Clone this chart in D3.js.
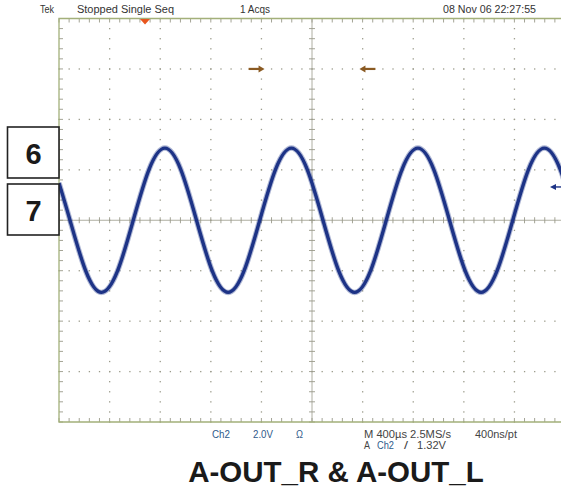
<!DOCTYPE html>
<html>
<head>
<meta charset="utf-8">
<script src="https://cdn.jsdelivr.net/npm/d3@7"></script>
<style>
  html, body { margin: 0; padding: 0; background: #fff; }
  svg { display: block; }
</style>
</head>
<body>
<svg id="scope" width="561" height="489"></svg>
<script>
// Acquisition: Ch2 at 2.0 V/div, 400 µs/div, 10 x 8 divisions
const timeDivUs = 400;
const voltDiv = 2.0;
const timeSpanUs = [0, 4000];
const voltSpan = [-8, 8];

// Ch2 trace samples (time in µs from left edge, volts)
const traceTimeUs = [0, 87, 212, 337, 462, 587, 712, 837, 962, 1087, 1212, 1337, 1462, 1587,
  1712, 1837, 1962, 2087, 2212, 2337, 2462, 2587, 2712, 2837, 2962, 3087, 3212, 3337, 3462,
  3587, 3712, 3837, 3962, 4087];
const traceVolts = [1.48, 0, -2.02, -2.86, -2.02, 0, 2.02, 2.86, 2.02, 0, -2.02, -2.86, -2.02, 0,
  2.02, 2.86, 2.02, 0, -2.02, -2.86, -2.02, 0, 2.02, 2.86, 2.02, 0, -2.02, -2.86, -2.02,
  0, 2.02, 2.86, 2.02, 0];

// Markers
const triggerLevelV = 1.32;
const triggerPosUs = 680;
const cursorTimesUs = [1625, 2375];
const cursorLevelV = 6;

// Status texts
const headerTexts = ["Tek", "Stopped  Single Seq", "1 Acqs", "08 Nov 06 22:27:55"];
const footerLine1 = ["Ch2", "2.0V", "\u03A9", "M 400\u00B5s 2.5MS/s", "400ns/pt"];
const footerLine2 = ["A", "Ch2", "/", "1.32V"];
const channelBoxes = ["6", "7"];
const title = "A-OUT_R & A-OUT_L";

const svg = d3.select("#scope");
const plotLeft = 59, plotTop = 18.5, plotBottom = 422, plotRight = 565;

const x = d3.scaleLinear().domain(timeSpanUs).range([plotLeft, plotRight]);
const y = d3.scaleLinear().domain(voltSpan).range([plotBottom, plotTop]);

const gridColor = "#9a9a8a";
const frameColor = "#a3b07a";

svg.append("defs").append("clipPath").attr("id", "plotClip")
  .append("rect").attr("x", plotLeft).attr("y", plotTop)
  .attr("width", plotRight - plotLeft).attr("height", plotBottom - plotTop);

const grid = svg.append("g");

// dotted graticule lines
const minorT = d3.range(timeSpanUs[0], timeSpanUs[1] + 1, timeDivUs / 5);
const minorV = d3.range(voltSpan[0], voltSpan[1] + 0.001, voltDiv / 5);
const majorT = d3.range(timeSpanUs[0] + timeDivUs, timeSpanUs[1], timeDivUs).filter(t => t !== 2000);
const majorV = d3.range(voltSpan[0] + voltDiv, voltSpan[1], voltDiv).filter(v => Math.abs(v) > 1e-9);

majorT.forEach(t => {
  minorV.forEach(v => {
    grid.append("rect").attr("x", x(t) - 0.6).attr("y", y(v) - 0.6)
      .attr("width", 1.3).attr("height", 1.3).attr("fill", gridColor);
  });
});
majorV.forEach(v => {
  minorT.forEach(t => {
    grid.append("rect").attr("x", x(t) - 0.6).attr("y", y(v) - 0.6)
      .attr("width", 1.3).attr("height", 1.3).attr("fill", gridColor);
  });
});

// center axes with cross ticks
grid.append("line").attr("x1", plotLeft).attr("x2", plotRight).attr("y1", y(0)).attr("y2", y(0))
  .attr("stroke", gridColor).attr("stroke-width", 0.8);
grid.append("line").attr("x1", x(2000)).attr("x2", x(2000)).attr("y1", plotTop).attr("y2", plotBottom)
  .attr("stroke", gridColor).attr("stroke-width", 0.8);
minorT.forEach(t => {
  grid.append("line").attr("x1", x(t)).attr("x2", x(t)).attr("y1", y(0) - 3).attr("y2", y(0) + 3)
    .attr("stroke", gridColor).attr("stroke-width", 0.9);
});
minorV.forEach(v => {
  grid.append("line").attr("x1", x(2000) - 3).attr("x2", x(2000) + 3).attr("y1", y(v)).attr("y2", y(v))
    .attr("stroke", gridColor).attr("stroke-width", 0.9);
});

// frame ticks
minorT.forEach(t => {
  grid.append("line").attr("x1", x(t)).attr("x2", x(t)).attr("y1", plotTop).attr("y2", plotTop + 4)
    .attr("stroke", gridColor).attr("stroke-width", 0.9);
  grid.append("line").attr("x1", x(t)).attr("x2", x(t)).attr("y1", plotBottom - 4).attr("y2", plotBottom)
    .attr("stroke", gridColor).attr("stroke-width", 0.9);
});
minorV.forEach(v => {
  grid.append("line").attr("x1", plotLeft).attr("x2", plotLeft + 4).attr("y1", y(v)).attr("y2", y(v))
    .attr("stroke", gridColor).attr("stroke-width", 0.9);
});

// frame
grid.append("path")
  .attr("d", `M${plotRight},${plotTop}H${plotLeft}V${plotBottom}H${plotRight}`)
  .attr("fill", "none").attr("stroke", frameColor).attr("stroke-width", 1.3);

// cursor arrows
const cursorColor = "#8a5a22";
const cy = y(cursorLevelV);
[[cursorTimesUs[0], 1], [cursorTimesUs[1], -1]].forEach(([t, dir]) => {
  const tip = x(t);
  const tail = tip - dir * 16;
  svg.append("line").attr("x1", tail).attr("x2", tip - dir * 4).attr("y1", cy).attr("y2", cy)
    .attr("stroke", cursorColor).attr("stroke-width", 2.2);
  svg.append("path")
    .attr("d", `M${tip},${cy}L${tip - dir * 6},${cy - 3.5}L${tip - dir * 6},${cy + 3.5}Z`)
    .attr("fill", cursorColor);
});

// trigger position marker
svg.append("path")
  .attr("d", `M${x(triggerPosUs) - 5},${plotTop + 0.5}L${x(triggerPosUs) + 5},${plotTop + 0.5}L${x(triggerPosUs)},${plotTop + 6}Z`)
  .attr("fill", "#e8561e");

// Ch2 trace
const traceColor = "#1d3386";
const pts = traceTimeUs.map((t, i) => [t, traceVolts[i]]);
const line = d3.line().x(d => x(d[0])).y(d => y(d[1])).curve(d3.curveNatural);
const tg = svg.append("g").attr("clip-path", "url(#plotClip)");
tg.append("path").attr("d", line(pts)).attr("fill", "none")
  .attr("stroke", traceColor).attr("stroke-opacity", 0.35).attr("stroke-width", 5.5);
tg.append("path").attr("d", line(pts)).attr("fill", "none")
  .attr("stroke", traceColor).attr("stroke-width", 3.4);

// trigger level marker on right edge
const ty = y(triggerLevelV);
svg.append("line").attr("x1", 556).attr("x2", 561).attr("y1", ty).attr("y2", ty)
  .attr("stroke", traceColor).attr("stroke-width", 1.4);
svg.append("path").attr("d", `M550,${ty}L556,${ty - 3}L556,${ty + 3}Z`).attr("fill", traceColor);

// header
const fontNarrow = "'Liberation Sans Narrow', 'Arial Narrow', 'Liberation Sans', Arial, sans-serif";
const headerPos = [[40, 14], [77, 97], [240, 30], [443, 93]];
headerTexts.forEach((s, i) => {
  svg.append("text").attr("x", headerPos[i][0]).attr("y", 13)
    .attr("font-family", fontNarrow).attr("font-size", 10).attr("fill", "#333")
    .attr("textLength", headerPos[i][1]).attr("lengthAdjust", "spacingAndGlyphs").text(s);
});

// footer readouts
const chBlue = "#2f5a8a";
const f1Pos = [[212, 18, chBlue], [253, 20, chBlue], [296, 7, chBlue], [364, 87, "#444"], [475, 42, "#444"]];
footerLine1.forEach((s, i) => {
  svg.append("text").attr("x", f1Pos[i][0]).attr("y", 438)
    .attr("font-family", fontNarrow).attr("font-size", 10).attr("fill", f1Pos[i][2])
    .attr("textLength", f1Pos[i][1]).attr("lengthAdjust", "spacingAndGlyphs").text(s);
});
const f2Pos = [[364, 6, "#444"], [377, 17, chBlue], [404, 4, "#444"], [417, 29, "#444"]];
footerLine2.forEach((s, i) => {
  svg.append("text").attr("x", f2Pos[i][0]).attr("y", 449)
    .attr("font-family", fontNarrow).attr("font-size", 10).attr("fill", f2Pos[i][2])
    .attr("textLength", f2Pos[i][1]).attr("lengthAdjust", "spacingAndGlyphs").text(s);
});

// channel boxes
const boxTop = [127, 184];
channelBoxes.forEach((s, i) => {
  svg.append("rect").attr("x", 7.5).attr("y", boxTop[i]).attr("width", 51.5).attr("height", 51)
    .attr("fill", "#fff").attr("stroke", "#222").attr("stroke-width", 1.6);
  svg.append("text").attr("x", 33.5).attr("y", boxTop[i] + 37)
    .attr("text-anchor", "middle").attr("font-family", "'Liberation Sans', Arial, sans-serif")
    .attr("font-weight", "bold").attr("font-size", 29).attr("fill", "#1a1a1a").text(s);
});

// title
svg.append("text").attr("x", 336).attr("y", 482).attr("text-anchor", "middle")
  .attr("font-family", "'Liberation Sans', Arial, sans-serif").attr("font-weight", "bold")
  .attr("font-size", 29.5).attr("fill", "#1a1a1a").text(title);
</script>
</body>
</html>
